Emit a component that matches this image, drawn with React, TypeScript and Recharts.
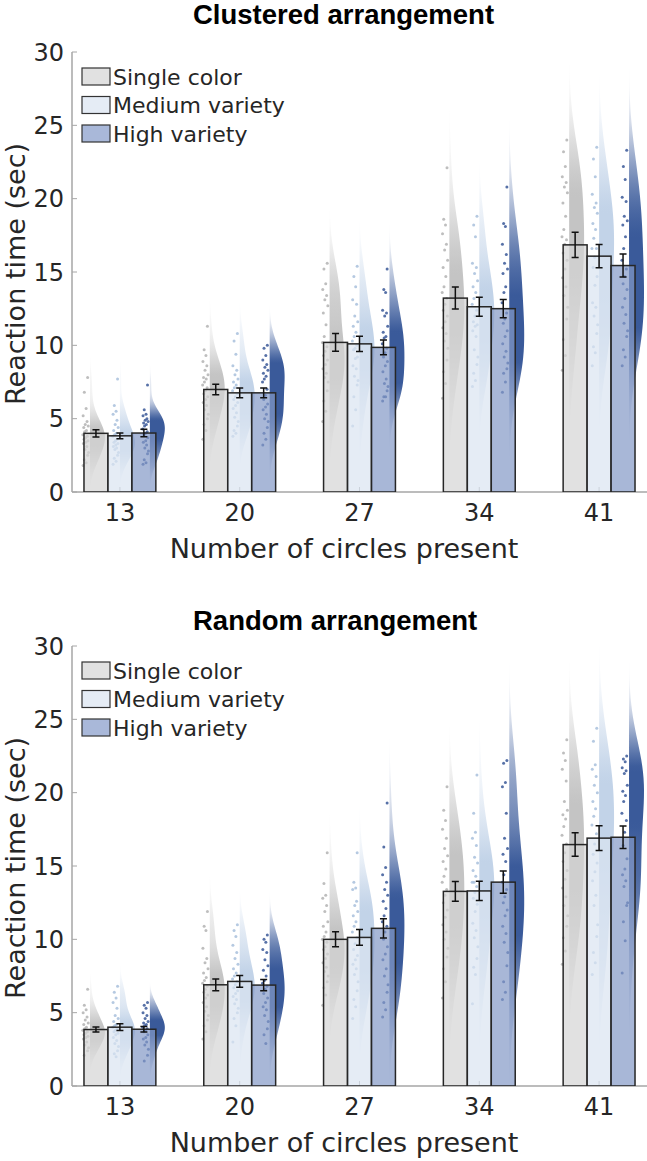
import React from "react";
import { ComposedChart, XAxis, YAxis, Scatter } from "recharts";

const CIRCLES = [13, 20, 27, 34, 41];
const CONDITIONS = ["Single color", "Medium variety", "High variety"];
const Y_TICKS = [0, 5, 10, 15, 20, 25, 30];

// Clustered arrangement: condition means and standard errors per set size
const clusteredSingleMean = [4.0, 6.99, 10.2, 13.22, 16.85];
const clusteredMediumMean = [3.83, 6.76, 10.1, 12.63, 16.08];
const clusteredHighMean = [4.02, 6.76, 9.86, 12.5, 15.44];
const clusteredSingleSem = [0.25, 0.36, 0.6, 0.75, 0.86];
const clusteredMediumSem = [0.2, 0.33, 0.52, 0.65, 0.79];
const clusteredHighSem = [0.25, 0.33, 0.51, 0.62, 0.78];

// Random arrangement
const randomSingleMean = [3.85, 6.9, 10.0, 13.27, 16.46];
const randomMediumMean = [4.01, 7.13, 10.13, 13.3, 16.9];
const randomHighMean = [3.87, 6.88, 10.75, 13.9, 16.96];
const randomSingleSem = [0.17, 0.4, 0.51, 0.68, 0.8];
const randomMediumSem = [0.23, 0.4, 0.54, 0.66, 0.85];
const randomHighSem = [0.18, 0.38, 0.66, 0.76, 0.76];

// per-participant reaction times (sec), one list per set size
const clusteredSingleRT = [
  [7.8, 6.8, 5.7, 5.2, 4.8, 4.6, 4.5, 4.4, 4.2, 4.1, 3.9, 3.8, 3.7, 3.6, 3.5, 3.4, 3.3, 3.1, 2.9, 2.7, 2.5, 2.2, 2.0, 1.8],
  [11.3, 9.7, 9.3, 8.9, 8.6, 8.3, 8.0, 7.8, 7.7, 7.5, 7.3, 7.1, 6.9, 6.7, 6.5, 6.3, 6.1, 5.9, 5.6, 5.3, 5.0, 4.6, 4.2, 3.6],
  [15.6, 15.2, 14.2, 13.8, 13.4, 13.1, 12.7, 12.2, 11.4, 10.6, 10.2, 9.9, 9.6, 9.3, 9.0, 8.7, 8.4, 8.1, 7.8, 7.5, 6.9, 6.2, 5.5, 4.8],
  [22.1, 18.6, 18.2, 17.6, 16.9, 16.5, 15.8, 15.3, 14.7, 14.0, 13.6, 13.2, 12.8, 12.4, 12.0, 11.6, 11.2, 10.8, 10.3, 9.8, 9.0, 8.2, 7.4, 6.4],
  [24.0, 23.2, 22.2, 21.5, 21.1, 20.8, 20.4, 19.7, 18.8, 17.9, 17.4, 17.2, 16.9, 16.3, 15.8, 15.2, 14.6, 14.0, 13.4, 12.6, 11.8, 10.4, 9.3, 8.3],
];
const clusteredMediumRT = [
  [7.7, 5.9, 5.5, 5.3, 4.9, 4.6, 4.4, 4.2, 4.0, 3.9, 3.8, 3.6, 3.5, 3.4, 3.3, 3.2, 3.1, 3.0, 2.9, 2.7, 2.5, 2.3, 2.1, 1.9],
  [10.8, 10.3, 9.4, 8.6, 8.3, 8.0, 7.7, 7.5, 7.3, 7.1, 6.9, 6.7, 6.5, 6.3, 6.1, 5.9, 5.7, 5.4, 5.1, 4.8, 4.5, 4.2, 4.0, 3.8],
  [15.4, 14.7, 14.0, 13.1, 12.8, 12.0, 11.6, 11.3, 10.9, 10.6, 10.3, 10.0, 9.8, 9.7, 9.2, 9.1, 8.6, 8.4, 7.9, 7.6, 7.3, 6.5, 5.6, 4.5],
  [18.8, 18.2, 17.4, 15.6, 15.3, 14.9, 14.4, 14.0, 13.6, 13.2, 12.8, 12.4, 12.0, 11.6, 11.4, 11.3, 11.0, 10.6, 9.7, 9.2, 8.7, 8.1, 7.6, 7.2],
  [23.5, 22.7, 21.5, 20.3, 19.7, 19.4, 19.0, 18.3, 17.9, 17.3, 16.6, 16.6, 16.0, 15.3, 14.7, 14.1, 12.9, 12.6, 12.0, 11.4, 10.8, 9.9, 9.5, 8.6],
];
const clusteredHighRT = [
  [7.3, 5.6, 5.3, 5.2, 5.0, 4.9, 4.8, 4.7, 4.6, 4.5, 4.3, 4.1, 4.0, 3.9, 3.7, 3.5, 3.4, 3.2, 3.0, 2.8, 2.6, 2.2, 2.0, 1.9],
  [10.0, 9.8, 9.3, 9.0, 8.7, 8.5, 8.3, 8.1, 7.9, 7.7, 7.5, 7.0, 6.6, 6.3, 6.0, 5.8, 5.6, 5.3, 5.0, 4.8, 4.4, 4.0, 3.6, 3.2],
  [15.2, 13.8, 13.6, 12.4, 12.2, 12.0, 11.3, 10.9, 10.6, 10.5, 10.1, 9.8, 9.5, 9.2, 8.9, 8.6, 8.2, 7.7, 7.4, 7.2, 6.9, 6.5, 6.5, 6.2],
  [20.8, 18.3, 18.1, 16.9, 16.2, 15.6, 15.2, 14.9, 14.0, 13.6, 12.9, 12.2, 11.8, 11.5, 11.0, 10.6, 10.1, 9.6, 9.2, 8.8, 8.4, 8.1, 7.5, 6.8],
  [23.3, 22.2, 21.3, 20.1, 19.8, 18.8, 18.5, 18.2, 17.4, 16.6, 15.8, 15.2, 14.7, 14.2, 13.8, 13.2, 12.6, 12.1, 11.5, 11.0, 10.6, 9.7, 9.2, 8.6],
];
const randomSingleRT = [
  [6.6, 5.5, 5.2, 5.0, 4.7, 4.5, 4.3, 4.2, 4.0, 3.9, 3.8, 3.7, 3.6, 3.5, 3.4, 3.3, 3.2, 3.0, 2.8, 2.6, 2.4, 2.1],
  [11.9, 10.9, 10.6, 9.4, 8.7, 8.4, 8.0, 7.7, 7.4, 7.2, 7.0, 6.8, 6.6, 6.4, 6.2, 6.0, 5.7, 5.4, 5.1, 4.8, 4.5, 4.1, 3.7, 3.2],
  [15.9, 13.8, 13.0, 12.8, 12.3, 11.9, 11.2, 10.9, 10.5, 10.2, 10.0, 9.8, 9.5, 9.3, 9.0, 8.7, 8.4, 8.1, 7.8, 7.5, 7.1, 6.7, 6.2, 5.5],
  [20.4, 18.8, 18.1, 17.5, 16.9, 16.2, 15.7, 15.3, 14.8, 14.3, 13.9, 13.4, 13.0, 12.5, 12.0, 11.5, 11.0, 10.5, 10.0, 9.4, 8.8, 8.0, 7.1, 6.0],
  [23.6, 22.7, 22.2, 21.6, 20.8, 19.4, 18.8, 18.5, 18.2, 17.7, 17.1, 16.5, 15.9, 15.3, 14.7, 14.1, 13.5, 12.9, 12.3, 11.6, 10.9, 10.1, 9.2, 8.3],
];
const randomMediumRT = [
  [6.8, 6.4, 6.0, 5.7, 5.3, 4.8, 4.6, 4.4, 4.2, 4.1, 4.0, 3.9, 3.8, 3.7, 3.6, 3.5, 3.3, 3.1, 2.9, 2.7, 2.4, 2.2, 2.0],
  [11.0, 10.6, 10.2, 9.6, 9.1, 8.7, 8.3, 8.0, 7.7, 7.5, 7.3, 7.1, 6.9, 6.7, 6.5, 6.3, 6.1, 5.9, 5.6, 5.3, 5.0, 4.6, 4.1, 3.0],
  [15.9, 13.9, 13.5, 13.4, 12.6, 12.3, 11.9, 11.6, 11.2, 10.9, 10.5, 10.1, 9.7, 9.3, 8.9, 8.6, 8.3, 8.0, 7.6, 7.1, 6.5, 5.9, 5.4, 4.6],
  [21.2, 18.6, 17.3, 16.9, 16.4, 15.6, 15.2, 14.7, 14.3, 13.9, 13.9, 13.6, 13.2, 12.8, 12.4, 11.9, 11.1, 10.6, 10.1, 9.5, 8.7, 8.1, 7.6, 5.6],
  [24.4, 23.5, 21.9, 21.6, 21.1, 20.5, 20.0, 19.4, 18.9, 18.4, 17.8, 17.2, 16.5, 15.8, 15.2, 14.6, 14.0, 13.0, 12.3, 11.0, 10.2, 9.1, 8.4, 7.6],
];
const randomHighRT = [
  [5.7, 5.5, 5.3, 5.0, 4.8, 4.6, 4.4, 4.3, 4.2, 4.1, 4.0, 3.9, 3.8, 3.7, 3.5, 3.3, 3.2, 3.0, 2.8, 2.5, 2.1, 1.7],
  [10.3, 10.0, 9.8, 9.3, 9.1, 8.6, 8.2, 7.9, 7.5, 7.2, 7.0, 6.8, 6.6, 6.3, 6.0, 5.7, 5.4, 5.2, 4.8, 4.4, 3.9, 3.5, 2.9],
  [19.3, 16.3, 14.9, 14.4, 13.9, 13.4, 13.0, 12.6, 12.1, 11.6, 11.2, 10.9, 10.5, 10.0, 9.5, 9.0, 8.6, 8.0, 7.5, 6.9, 6.4, 5.7, 5.2, 4.7],
  [22.2, 22.0, 20.7, 20.4, 18.6, 16.9, 16.2, 15.8, 15.3, 14.4, 13.9, 13.4, 12.9, 12.5, 12.0, 11.6, 10.9, 10.4, 9.8, 9.1, 8.2, 7.1, 6.4, 5.9],
  [22.5, 22.3, 22.1, 21.7, 21.5, 21.3, 20.5, 20.1, 19.8, 19.4, 18.6, 18.1, 17.3, 16.4, 15.5, 14.8, 14.4, 14.0, 13.6, 12.5, 12.3, 11.2, 9.9, 7.7],
];

const BAR_FILL = ["#d4d4d4", "#dae4f1", "#8398c6"];
const LEGEND_FILL = ["#e1e1e1", "#e5ecf5", "#a9b8d9"];
const VIOLIN_FILL = ["#c4c4c4", "#c2d3e8", "#3a5a9a"];
const DOT_FILL = ["#b3b3b3", "#a8bfdc", "#3a5898"];
const BAR_OFFSET = [-0.2, 0, 0.2];
const VIOLIN_OFFSET = [-0.25, 0, 0.25];
const BAR_HALF = 0.1;
const VIOLIN_WIDTH = 0.125;
const JITTER = [0.15, 0.7, 0.4, 0.9, 0.25, 0.55, 0.05, 0.8, 0.35, 0.65, 0.95, 0.2, 0.5, 0.75, 0.1, 0.45, 0.85, 0.3, 0.6, 0.0];

const AXIS_GREY = "#a6a6a6";
const TEXT = "#262626";

const hidden = () => <g />;

// gaussian kernel density estimate with Silverman bandwidth, clipped to the axis range
function density(values: number[]) {
  const n = values.length;
  const mean = values.reduce((a, b) => a + b, 0) / n;
  const sd = Math.sqrt(values.reduce((a, v) => a + (v - mean) ** 2, 0) / (n - 1));
  const bw = 1.06 * sd * Math.pow(n, -0.2);
  const lo = Math.max(0, Math.min(...values) - 3 * bw);
  const hi = Math.min(30, Math.max(...values) + 3 * bw);
  const steps = 70;
  const out: { y: number; d: number }[] = [];
  for (let i = 0; i <= steps; i++) {
    const y = lo + ((hi - lo) * i) / steps;
    let d = 0;
    for (const v of values) d += Math.exp(-0.5 * ((y - v) / bw) ** 2);
    out.push({ y, d });
  }
  const max = Math.max(...out.map((p) => p.d));
  return { lo, hi, samples: out.map((p) => ({ y: p.y, d: p.d / max })) };
}

function pathOf(points: { x: number; y: number }[]) {
  return points.map((p, i) => `${i ? "L" : "M"}${p.x},${p.y}`).join(" ") + " Z";
}

type PanelProps = {
  id: string;
  title: string;
  titleY: number;
  means: number[][];
  sems: number[][];
  subjects: number[][][];
};

function Panel({ id, title, titleY, means, sems, subjects }: PanelProps) {
  const violins: React.ReactNode[] = [];
  const dots: React.ReactNode[] = [];
  const bars: React.ReactNode[] = [];
  const errors: React.ReactNode[] = [];

  CONDITIONS.forEach((_, s) => {
    CIRCLES.forEach((__, g) => {
      const flat = g + 1 + VIOLIN_OFFSET[s];
      const { lo, hi, samples } = density(subjects[s][g]);
      const outline = [
        { x: flat, y: lo },
        ...samples.map((p) => ({ x: flat + VIOLIN_WIDTH * p.d, y: p.y })),
        { x: flat, y: hi },
      ];
      // gradient runs top (hi) to bottom (lo); stops must be in increasing offset
      const stops = samples.slice().reverse();
      const gid = `${id}-v${s}-${g}`;
      violins.push(
        <Scatter
          key={gid}
          data={outline}
          shape={hidden}
          isAnimationActive={false}
          line={(p: any) => (
            <g>
              <defs>
                <linearGradient id={gid} x1="0" y1="0" x2="0" y2="1">
                  {stops.map((q, k) => (
                    <stop
                      key={k}
                      offset={(hi - q.y) / (hi - lo)}
                      stopColor={VIOLIN_FILL[s]}
                      stopOpacity={Math.min(1, 1.1 * Math.pow(q.d, 0.9))}
                    />
                  ))}
                </linearGradient>
              </defs>
              <path d={pathOf(p.points)} fill={`url(#${gid})`} stroke="none" />
            </g>
          )}
        />
      );
    });

    const pts = subjects[s].flatMap((list, g) =>
      list.map((v, k) => ({
        x: g + 1 + VIOLIN_OFFSET[s] - 0.012 - 0.05 * JITTER[k % JITTER.length],
        y: v,
      }))
    );
    dots.push(
      <Scatter
        key={`${id}-d${s}`}
        data={pts}
        isAnimationActive={false}
        shape={(p: any) => <circle cx={p.cx} cy={p.cy} r={1.5} fill={DOT_FILL[s]} fillOpacity={0.85} />}
      />
    );

    const corners = means[s].flatMap((m, g) => [
      { x: g + 1 + BAR_OFFSET[s] - BAR_HALF, y: 0 },
      { x: g + 1 + BAR_OFFSET[s] + BAR_HALF, y: m },
    ]);
    bars.push(
      <Scatter
        key={`${id}-b${s}`}
        data={corners}
        shape={hidden}
        isAnimationActive={false}
        line={(p: any) => {
          const rects = [];
          for (let i = 0; i + 1 < p.points.length; i += 2) {
            const a = p.points[i];
            const b = p.points[i + 1];
            rects.push(
              <rect
                key={i}
                x={Math.min(a.x, b.x)}
                y={Math.min(a.y, b.y)}
                width={Math.abs(b.x - a.x)}
                height={Math.abs(b.y - a.y)}
                fill={BAR_FILL[s]}
                fillOpacity={0.7}
                stroke="#262626"
                strokeWidth={1.5}
              />
            );
          }
          return <g>{rects}</g>;
        }}
      />
    );

    // standard error whiskers: low / high end per bar
    const ends = means[s].flatMap((m, g) => [
      { x: g + 1 + BAR_OFFSET[s], y: m - sems[s][g] },
      { x: g + 1 + BAR_OFFSET[s], y: m + sems[s][g] },
    ]);
    errors.push(
      <Scatter
        key={`${id}-e${s}`}
        data={ends}
        shape={hidden}
        isAnimationActive={false}
        line={(p: any) => {
          const segs = [];
          for (let i = 0; i + 1 < p.points.length; i += 2) {
            const a = p.points[i];
            const b = p.points[i + 1];
            segs.push(
              <path
                key={i}
                d={`M${a.x},${a.y} L${b.x},${b.y} M${a.x - 3.5},${a.y} L${a.x + 3.5},${a.y} M${b.x - 3.5},${b.y} L${b.x + 3.5},${b.y}`}
                stroke="#111"
                strokeWidth={1.5}
                fill="none"
              />
            );
          }
          return <g>{segs}</g>;
        }}
      />
    );
  });

  return (
    <div style={{ position: "relative", width: 647, height: 580 }}>
      <ComposedChart width={647} height={580} margin={{ top: 52, right: 0, bottom: 48, left: 0 }}>
        <XAxis
          type="number"
          dataKey="x"
          domain={[0.6, 5.4]}
          allowDataOverflow
          ticks={[1, 2, 3, 4, 5]}
          interval={0}
          tickFormatter={(v: number) => String(CIRCLES[v - 1])}
          height={40}
          axisLine={{ stroke: AXIS_GREY, strokeWidth: 1.5 }}
          tickLine={{ stroke: AXIS_GREY }}
          tickSize={-5}
          tickMargin={17}
          tick={{ fontSize: 24, fill: TEXT }}
        />
        <YAxis
          type="number"
          dataKey="y"
          domain={[0, 30]}
          allowDataOverflow
          ticks={Y_TICKS}
          interval={0}
          width={72}
          axisLine={{ stroke: AXIS_GREY, strokeWidth: 1.5 }}
          tickLine={{ stroke: AXIS_GREY }}
          tickSize={-5}
          tickMargin={13}
          tick={{ fontSize: 24, fill: TEXT }}
        />
        {violins}
        {dots}
        {bars}
        {errors}
      </ComposedChart>
      <svg
        width={647}
        height={580}
        style={{ position: "absolute", left: 0, top: 0, pointerEvents: "none" }}
      >
        <text x={193} y={titleY} fontFamily="'Liberation Sans', Arial, sans-serif" fontWeight="bold" fontSize={27.5} fill="#000">
          {title}
        </text>
        <text x={15} y={274} transform="rotate(-90 15 274)" textAnchor="middle" dominantBaseline="central" fontSize={27} fill={TEXT}>
          Reaction time (sec)
        </text>
        <text x={344} y={558} textAnchor="middle" fontSize={27} fill={TEXT}>
          Number of circles present
        </text>
        {CONDITIONS.map((name, s) => (
          <g key={name}>
            <rect x={82} y={68 + s * 28.5} width={28} height={17} fill={LEGEND_FILL[s]} stroke="#333" strokeWidth={1.2} />
            <text x={113} y={84.5 + s * 28.5} fontSize={22} fill={TEXT}>
              {name}
            </text>
          </g>
        ))}
      </svg>
    </div>
  );
}

export default function App() {
  return (
    <div
      style={{
        position: "absolute",
        left: 0,
        top: 0,
        width: 647,
        height: 1161,
        background: "#fff",
        fontFamily: "'DejaVu Sans', sans-serif",
      }}
    >
      <div style={{ position: "absolute", left: 0, top: 0 }}>
        <Panel
          id="clustered"
          title="Clustered arrangement"
          titleY={24}
          means={[clusteredSingleMean, clusteredMediumMean, clusteredHighMean]}
          sems={[clusteredSingleSem, clusteredMediumSem, clusteredHighSem]}
          subjects={[clusteredSingleRT, clusteredMediumRT, clusteredHighRT]}
        />
      </div>
      <div style={{ position: "absolute", left: 0, top: 594 }}>
        <Panel
          id="random"
          title="Random arrangement"
          titleY={36}
          means={[randomSingleMean, randomMediumMean, randomHighMean]}
          sems={[randomSingleSem, randomMediumSem, randomHighSem]}
          subjects={[randomSingleRT, randomMediumRT, randomHighRT]}
        />
      </div>
    </div>
  );
}
